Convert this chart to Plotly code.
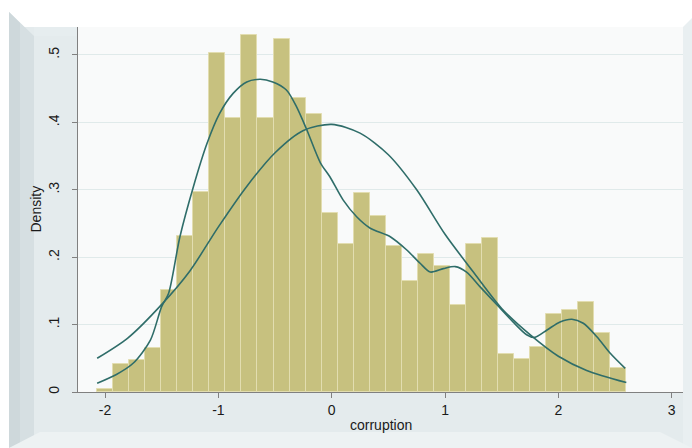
import numpy as np
import plotly.graph_objects as go

# histogram of corruption (density scale)
bin_start = -2.07
bin_width = 0.1415
densidad = [0.004, 0.041, 0.047, 0.066, 0.151, 0.231, 0.297, 0.503, 0.406, 0.530,
            0.406, 0.524, 0.436, 0.412, 0.265, 0.220, 0.295, 0.261, 0.217, 0.165,
            0.205, 0.187, 0.129, 0.220, 0.229, 0.057, 0.049, 0.067, 0.115, 0.121,
            0.133, 0.087, 0.036]

# kernel density
kde_x = [-2.07, -1.90, -1.75, -1.60, -1.50, -1.44, -1.34, -1.22, -1.10, -0.99,
         -0.87, -0.75, -0.63, -0.52, -0.40, -0.31, -0.22, -0.10, -0.015, 0.10,
         0.22, 0.34, 0.52, 0.66, 0.78, 0.87, 0.985, 1.09, 1.19, 1.31,
         1.46, 1.60, 1.72, 1.79, 1.90, 2.015, 2.12, 2.22, 2.34, 2.46, 2.59]
kde_y = [0.013, 0.026, 0.043, 0.077, 0.127, 0.146, 0.230, 0.305, 0.369, 0.413,
         0.443, 0.460, 0.464, 0.460, 0.448, 0.423, 0.389, 0.340, 0.319, 0.285,
         0.260, 0.243, 0.230, 0.211, 0.191, 0.178, 0.183, 0.186, 0.178, 0.156,
         0.129, 0.104, 0.085, 0.081, 0.092, 0.104, 0.108, 0.102, 0.082, 0.057, 0.035]

# normal density overlay
norm_x = [-2.07, -1.80, -1.50, -1.25, -1.00, -0.75, -0.50, -0.25, 0.00, 0.25,
          0.50, 0.75, 1.00, 1.25, 1.50, 1.75, 2.00, 2.25, 2.60]
norm_y = [0.050, 0.080, 0.130, 0.180, 0.245, 0.305, 0.355, 0.388, 0.397, 0.384,
          0.352, 0.300, 0.234, 0.178, 0.124, 0.085, 0.053, 0.032, 0.014]

y_ticks = [0, 0.1, 0.2, 0.3, 0.4, 0.5]
y_labels = ['0', '.1', '.2', '.3', '.4', '.5']
x_ticks = [-2, -1, 0, 1, 2, 3]

VERDE = '#2f6d69'
KHAKI = '#c7c17f'
FUENTE = 'Liberation Sans, Arial, sans-serif'

centros = bin_start + bin_width * (np.arange(len(densidad)) + 0.5)

fig = go.Figure()
fig.add_trace(go.Bar(
    x=centros, y=densidad, width=bin_width,
    marker=dict(color=KHAKI, line=dict(color='#e2ddb0', width=1)),
    hoverinfo='skip'
))
fig.add_trace(go.Scatter(
    x=kde_x, y=kde_y, mode='lines',
    line=dict(color=VERDE, width=1.6, shape='spline', smoothing=0.8)
))
fig.add_trace(go.Scatter(
    x=norm_x, y=norm_y, mode='lines',
    line=dict(color=VERDE, width=1.6, shape='spline', smoothing=0.8)
))

# frame around the plot region (pixel -> paper helpers)
def px(X):
    return (X - 78) / 605

def py(Y):
    return (392 - Y) / 365

def caja(x0, y0, x1, y1, color):
    return dict(type='rect', xref='paper', yref='paper', layer='below',
                x0=px(x0), x1=px(x1), y0=py(y1), y1=py(y0),
                fillcolor=color, line=dict(width=0))

def poligono(puntos, color):
    path = 'M ' + ' L '.join(f'{px(a)},{py(b)}' for a, b in puntos) + ' Z'
    return dict(type='path', xref='paper', yref='paper', layer='below',
                path=path, fillcolor=color, line=dict(width=0))

shapes = [
    caja(0, 0, 692, 27, '#ffffff'),
    caja(0, 0, 9, 448, '#ffffff'),
    poligono([(9, 12), (34, 36), (34, 440), (9, 448)], '#d6dfe2'),
    poligono([(9, 12), (20, 23), (20, 444), (9, 448)], '#ced8db'),
    poligono([(34, 36), (78, 36), (78, 27), (34, 27)], '#e6edef'),
    poligono([(683, 27), (692, 18), (692, 448), (683, 448)], '#e9eff1'),
    poligono([(9, 448), (40, 432), (660, 432), (692, 448)], '#edf2f3'),
]

fig.update_layout(
    template='none',
    width=692, height=448,
    margin=dict(l=78, r=9, t=27, b=56, autoexpand=False),
    paper_bgcolor='#e4ebed',
    plot_bgcolor='#f9fafa',
    showlegend=False,
    bargap=0,
    font=dict(family=FUENTE, color='#1a1a1a', size=13),
    shapes=shapes,
    annotations=[
        dict(text='Density', xref='paper', yref='paper', x=px(35), y=0.5,
             xanchor='center', yanchor='middle',
             textangle=-90, showarrow=False, font=dict(size=14)),
        dict(text='corruption', xref='paper', yref='paper', x=0.5, y=py(425),
             xanchor='center', yanchor='middle',
             showarrow=False, font=dict(size=14)),
    ],
)
fig.update_xaxes(
    automargin=False,
    range=[-2.239, 3.10], tickvals=x_ticks, ticktext=[str(t) for t in x_ticks],
    showgrid=False, zeroline=False,
    showline=True, linecolor='#808080', linewidth=1,
    ticks='outside', ticklen=5, tickcolor='#808080',
    tickfont=dict(size=14)
)
fig.update_yaxes(
    automargin=False,
    range=[0, 0.5415], tickvals=y_ticks, ticktext=y_labels, tickangle=-90,
    showgrid=True, gridcolor='#e0eaea', gridwidth=1, zeroline=False,
    showline=True, linecolor='#808080', linewidth=1,
    ticks='outside', ticklen=5, tickcolor='#808080',
    ticklabelstandoff=7,
    tickfont=dict(size=14)
)

# quitar el margen por defecto del body para que la figura quede en (0, 0)
fig.write_html('out.html', config={'displayModeBar': False},
               post_script="document.body.style.margin='0';")
